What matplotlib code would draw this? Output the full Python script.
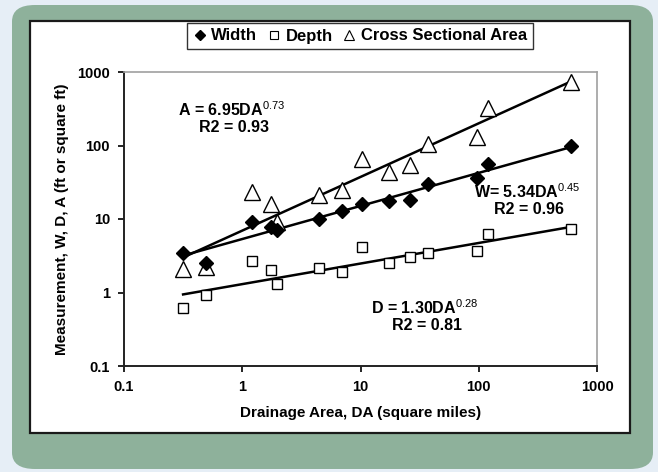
import matplotlib

matplotlib.use("Agg")
import matplotlib.pyplot as plt  # noqa: E402
import numpy as np  # noqa: E402
from matplotlib.lines import Line2D  # noqa: E402
from matplotlib.patches import FancyBboxPatch, Rectangle  # noqa: E402

plt.rcParams["font.family"] = ["Liberation Sans", "DejaVu Sans"]
plt.rcParams["mathtext.fontset"] = "custom"
plt.rcParams["mathtext.rm"] = "Liberation Sans"
plt.rcParams["mathtext.bf"] = "Liberation Sans:bold"

# ---- data -----------------------------------------------------------
drainage_area = [0.316, 0.49, 1.21, 1.76, 1.97, 4.42, 7.04, 10.2, 17.4, 26.0,
                 37.2, 96.0, 118.7, 598.0]
width = [3.41, 2.49, 9.2, 7.9, 7.1, 10.0, 13.0, 16.0, 17.4, 18.1,
         29.9, 35.7, 56.0, 99.5]
depth = [0.62, 0.92, 2.68, 2.02, 1.31, 2.18, 1.90, 4.12, 2.52, 3.01,
         3.41, 3.63, 6.18, 7.39]
area = [2.11, 2.2, 23.3, 16.0, 9.2, 21.0, 24.8, 64.8, 43.1, 54.3,
        104.0, 129.0, 327.0, 738.0]

# power-law fits printed on the chart: y = coef * DA ** expo
fit_names = ["A", "W", "D"]
fit_coef = [6.95, 5.34, 1.30]
fit_expo = [0.73, 0.45, 0.28]
fit_r2 = [0.93, 0.96, 0.81]

x_ticks = [0.1, 1, 10, 100, 1000]
x_labels = ["0.1", "1", "10", "100", "1000"]
y_ticks = [0.1, 1, 10, 100, 1000]
y_labels = ["0.1", "1", "10", "100", "1000"]

GREEN = "#8eb19b"
BG = "#e6eef6"

fig = plt.figure(figsize=(6.58, 4.72), dpi=100, facecolor=BG)

# green rounded frame + white panel
W, H = 658, 472
fig.patches.append(FancyBboxPatch(
    (12 / W, 3 / H), 641 / W, 464 / H,
    boxstyle="round,pad=0,rounding_size=0.035", transform=fig.transFigure,
    facecolor=GREEN, edgecolor="none", zorder=0))
fig.patches.append(Rectangle(
    (30 / W, 1 - 433 / H), 600 / W, 412 / H, transform=fig.transFigure,
    facecolor="white", edgecolor="#1a1a1a", linewidth=1.6, zorder=1))

ax = fig.add_axes([124 / W, 1 - 366 / H, 473 / W, 294 / H])
ax.set_zorder(3)
ax.set_facecolor("none")
ax.set_xscale("log")
ax.set_yscale("log")
ax.set_xlim(0.1, 1000)
ax.set_ylim(0.1, 1000)

# trend lines
da = np.array(drainage_area)
x_fit = np.logspace(np.log10(da.min()), np.log10(da.max()), 50)
for c, e in zip(fit_coef, fit_expo):
    ax.plot(x_fit, c * x_fit ** e, color="black", lw=1.8, zorder=3)

ax.plot(drainage_area, area, linestyle="none", marker="^", markersize=11,
        markerfacecolor="white", markeredgecolor="black", markeredgewidth=1.0,
        zorder=4)
ax.plot(drainage_area, width, linestyle="none", marker="D", markersize=7.5,
        color="black", zorder=5)
ax.plot(drainage_area, depth, linestyle="none", marker="s", markersize=7.5,
        markerfacecolor="white", markeredgecolor="black", markeredgewidth=1.0,
        zorder=4)

ax.xaxis.set_minor_locator(matplotlib.ticker.NullLocator())
ax.yaxis.set_minor_locator(matplotlib.ticker.NullLocator())
ax.set_xticks(x_ticks)
ax.set_xticklabels(x_labels)
ax.set_yticks(y_ticks)
ax.set_yticklabels(y_labels)
ax.tick_params(direction="out", length=4, width=1.2, colors="black",
               labelsize=10.5, pad=6)
for lab in ax.get_xticklabels() + ax.get_yticklabels():
    lab.set_fontweight("bold")

for side in ("left", "bottom"):
    ax.spines[side].set_color("#222222")
    ax.spines[side].set_linewidth(1.4)
for side in ("top", "right"):
    ax.spines[side].set_color("#a0a0a0")
    ax.spines[side].set_linewidth(1.2)

ax.set_xlabel("Drainage Area, DA (square miles)", fontsize=11,
              fontweight="bold", labelpad=9)
ax.set_ylabel("Measurement, W, D, A (ft or square ft)", fontsize=11,
              fontweight="bold", labelpad=6)

# equation labels (positions in figure pixels)
eq_pos = {"A": (232, 110), "W": (527, 192), "D": (425, 308)}
for name, c, e, r2 in zip(fit_names, fit_coef, fit_expo, fit_r2):
    px, py = eq_pos[name]
    lhs = f"{name} = " if name != "W" else "W= "
    fig.text(px / W, 1 - py / H,
             lhs + f"{c:.2f}DA" + r"$^{\mathrm{" + f"{e:.2f}" + r"}}$",
             ha="center", va="center", fontsize=11.5, fontweight="bold",
             zorder=4)
    fig.text((px + 2) / W, 1 - (py + 18) / H, f"R2 = {r2:.2f}",
             ha="center", va="center", fontsize=11.5, fontweight="bold",
             zorder=4)

handles = [
    Line2D([], [], linestyle="none", marker="D", markersize=5, color="black"),
    Line2D([], [], linestyle="none", marker="s", markersize=6,
           markerfacecolor="white", markeredgecolor="black", markeredgewidth=0.8),
    Line2D([], [], linestyle="none", marker="^", markersize=7,
           markerfacecolor="white", markeredgecolor="black", markeredgewidth=0.8),
]
leg = fig.legend(handles, ["Width", "Depth", "Cross Sectional Area"],
                 loc="center", bbox_to_anchor=(360 / W, 1 - 36 / H), ncol=3,
                 frameon=True, fancybox=False, handlelength=0.8,
                 handletextpad=0.3, columnspacing=0.6, borderpad=0.35,
                 prop={"weight": "bold", "size": 12})
leg.set_zorder(5)
leg.get_frame().set_edgecolor("black")
leg.get_frame().set_linewidth(1.0)

fig.savefig("out.png", dpi=100, facecolor=BG)
